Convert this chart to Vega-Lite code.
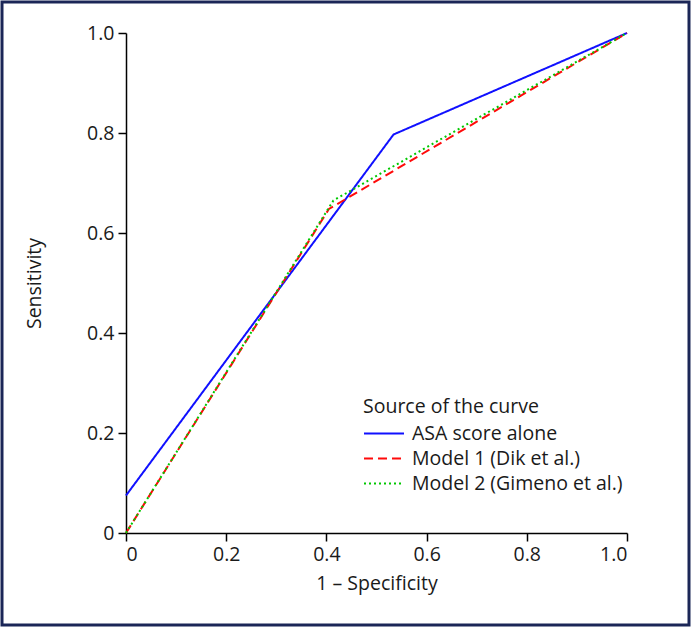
{
  "$schema": "https://vega.github.io/schema/vega-lite/v6.json",
  "autosize": "none",
  "padding": {"left": 2, "top": 2, "right": 2, "bottom": 2},
  "width": 687,
  "height": 623,
  "background": "white",
  "config": {
    "view": {"stroke": "#1b2657", "strokeWidth": 3},
    "font": "Open Sans",
    "axis": {"grid": false, "domainColor": "black", "domainWidth": 1.5, "tickColor": "black", "tickWidth": 1.5, "tickSize": 8, "labelFont": "Open Sans", "labelFontSize": 19.5, "labelColor": "#1a1a1a", "titleFont": "Open Sans", "titleFontSize": 19.5, "titleFontWeight": "normal", "titleColor": "#1a1a1a", "labelPadding": 4}
  },
  "data": {"values": [
    {"series": "ASA score alone", "fpr": 0, "tpr": 0.075, "o": 0},
    {"series": "ASA score alone", "fpr": 0.534, "tpr": 0.797, "o": 1},
    {"series": "ASA score alone", "fpr": 1, "tpr": 1, "o": 2},
    {"series": "Model 1 (Dik et al.)", "fpr": 0, "tpr": 0, "o": 0},
    {"series": "Model 1 (Dik et al.)", "fpr": 0.405, "tpr": 0.648, "o": 1},
    {"series": "Model 1 (Dik et al.)", "fpr": 1, "tpr": 1, "o": 2},
    {"series": "Model 2 (Gimeno et al.)", "fpr": 0, "tpr": 0, "o": 0},
    {"series": "Model 2 (Gimeno et al.)", "fpr": 0.414, "tpr": 0.665, "o": 1},
    {"series": "Model 2 (Gimeno et al.)", "fpr": 1, "tpr": 1, "o": 2}
  ]},
  "mark": {"type": "line", "strokeWidth": 2},
  "encoding": {
    "x": {"field": "fpr", "type": "quantitative",
      "scale": {"domain": [0, 1], "range": [124, 625], "nice": false},
      "axis": {"title": "1 – Specificity", "values": [0, 0.2, 0.4, 0.6, 0.8, 1], "labelExpr": "datum.value == 0 ? '0' : format(datum.value, '.1f')", "offset": -92, "titlePadding": 11}},
    "y": {"field": "tpr", "type": "quantitative",
      "scale": {"domain": [0, 1], "range": [531, 31], "nice": false},
      "axis": {"title": "Sensitivity", "values": [0, 0.2, 0.4, 0.6, 0.8, 1], "labelExpr": "datum.value == 0 ? '0' : format(datum.value, '.1f')", "offset": -124, "titlePadding": 42}},
    "order": {"field": "o"},
    "color": {"field": "series", "type": "nominal",
      "scale": {"domain": ["ASA score alone", "Model 1 (Dik et al.)", "Model 2 (Gimeno et al.)"], "range": ["#1010ff", "#ff0a0a", "#00c800"]},
      "legend": {"title": "Source of the curve", "orient": "none", "legendX": 361, "legendY": 396, "titleFontSize": 19.5, "titleFontWeight": "normal", "titleColor": "#1a1a1a", "labelFontSize": 19.5, "labelColor": "#1a1a1a", "labelLimit": 400, "symbolType": "M-1,0H3", "symbolSize": 400, "symbolStrokeWidth": 2, "symbolFillColor": "transparent", "rowPadding": 4, "labelOffset": 27, "titlePadding": 5}},
    "strokeDash": {"field": "series", "type": "nominal",
      "scale": {"domain": ["ASA score alone", "Model 1 (Dik et al.)", "Model 2 (Gimeno et al.)"], "range": [[1, 0], [9, 5], [2, 3]]}}
  }
}
